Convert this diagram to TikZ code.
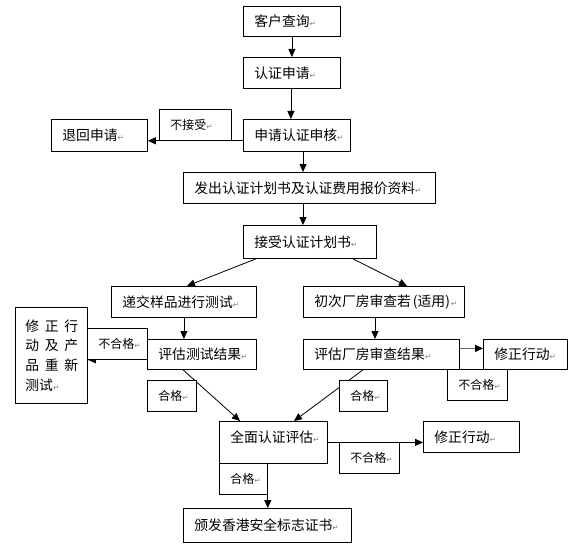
\documentclass[tikz,border=0pt]{standalone}
\usepackage{fontspec}
\setmainfont{Noto Sans CJK SC}
\newfontfamily\symfont{DejaVu Sans}
\usetikzlibrary{arrows.meta}
\newcommand\pmk{{\symfont\fontsize{7.5}{8}\selectfont\color{gray}↵}}
\newcommand\bigtxt{\fontsize{13.8}{19.7}\selectfont}
\newcommand\smalltxt{\fontsize{12}{14}\selectfont}
\newcommand\bx[2]{\makebox[#1pt][l]{\hspace{11pt}#2}}
\begin{document}
\begin{tikzpicture}[x=1pt,y=-1pt,
  box/.style={draw, fill=white, line width=0.8pt, inner sep=0pt, anchor=north west, font=\bigtxt},
  lab/.style={box, font=\smalltxt},
  arr/.style={line width=0.8pt, -{Triangle[length=8pt,width=7pt]}},
  garr/.style={draw=gray!80!black, line width=1.3pt, -{Triangle[length=8pt,width=7pt,color=black]}}]
\useasboundingbox (0,0) rectangle (583,559);
% main boxes
\node[box, minimum width=97, minimum height=30] (kehu) at (243,6) {\bx{97}{客户查询\pmk}};
\node[box, minimum width=97, minimum height=31] (renzheng) at (243,57) {\bx{97}{认证申请\pmk}};
\node[box, minimum width=107, minimum height=32] (shenhe) at (243,119) {\bx{107}{申请认证申核\pmk}};
\node[box, minimum width=96, minimum height=32] (tuihui) at (51,119) {\bx{96}{退回申请\pmk}};
\node[box, minimum width=252, minimum height=31] (fachu) at (183,172) {\bx{252}{发出认证计划书及认证费用报价资料\pmk}};
\node[box, minimum width=133, minimum height=33] (jieshou) at (243,225) {\bx{133}{接受认证计划书\pmk}};
\node[box, minimum width=145, minimum height=31] (dijiao) at (111,286) {\bx{145}{递交样品进行测试\pmk}};
\node[box, minimum width=161, minimum height=31] (chuci) at (303,286) {\bx{161}{初次厂房审查若\kern2pt(适用)\kern1pt\pmk}};
\node[box, minimum width=72, minimum height=96, inner xsep=10pt, text width=52, align=left] (xiuzheng1) at (15,307)
  {修\kern5.7pt正\kern5.7pt行\\动\kern5.7pt及\kern5.7pt产\\品\kern5.7pt重\kern5.7pt新\\测试\pmk};
\node[box, minimum width=109, minimum height=30] (pinggu1) at (147,339) {\bx{109}{评估测试结果\pmk}};
\node[box, minimum width=156, minimum height=30] (pinggu2) at (303,339) {\bx{156}{评估厂房审查结果\pmk}};
\node[box, minimum width=84, minimum height=30] (xiuzheng2) at (483,339) {\bx{84}{修正行动\pmk}};
\node[box, minimum width=108, minimum height=42, text depth=11pt] (quanmian) at (219,421) {\bx{108}{全面认证评估\pmk}};
\node[box, minimum width=96, minimum height=31] (xiuzheng3) at (423,421) {\bx{96}{修正行动\pmk}};
\node[box, minimum width=168, minimum height=34] (banfa) at (183,508) {\bx{168}{颁发香港安全标志证书\pmk}};
% helper coordinate
\coordinate (c303) at (303,0);
% connectors
\draw[arr] (kehu.south) -- (renzheng.north);
\draw[arr] ([xshift=-1]renzheng.south) -- ([xshift=-1]renzheng.south |- shenhe.north);
\draw[arr] (shenhe.south -| c303) -- (fachu.north -| c303);
\draw[arr] ([yshift=11]shenhe.south west) -- ([yshift=11]shenhe.south west -| tuihui.east);
\draw[arr] (fachu.south -| c303) -- (jieshou.north -| c303);
\draw[arr] ([xshift=13]jieshou.south west) -- ([xshift=76]dijiao.north west);
\draw[arr] ([xshift=-24]jieshou.south east) -- ([xshift=104]chuci.north west);
\draw[arr] (dijiao.south) -- (dijiao.south |- pinggu1.north);
\draw[arr] ([xshift=72]chuci.south west) -- ([xshift=72]chuci.south west |- pinggu2.north);
\draw[arr] ([yshift=10]pinggu1.south west) -- ([yshift=10]pinggu1.south west -| xiuzheng1.east);
\draw[garr] ([yshift=6]pinggu2.east) -- ([yshift=6]pinggu2.east -| xiuzheng2.west);
\draw[arr] ([xshift=36]pinggu1.south west) -- ([xshift=21]quanmian.north west);
\draw[arr] ([xshift=60]pinggu2.south west) -- ([xshift=75]quanmian.north west);
\draw[arr] (quanmian.east) -- (quanmian.east -| xiuzheng3.west);
\draw[arr] ([xshift=-60]quanmian.south east) -- ([xshift=-60]quanmian.south east |- banfa.north);
% label boxes
\node[lab, minimum width=72, minimum height=31] (bujieshou) at (159,109) {\bx{72}{不接受\pmk}};
\node[lab, minimum width=60, minimum height=31] (buhege1) at (87,328) {\bx{60}{不合格\pmk}};
\node[lab, minimum width=60, minimum height=31] (buhege2) at (447,369) {\bx{60}{不合格\pmk}};
\node[lab, minimum width=49, minimum height=31] (hege1) at (147,380) {\bx{49}{合格\pmk}};
\node[lab, minimum width=48, minimum height=31] (hege2) at (339,380) {\bx{48}{合格\pmk}};
\node[lab, minimum width=60, minimum height=31] (buhege3) at (339,442) {\bx{60}{不合格\pmk}};
\node[lab, minimum width=48, minimum height=31] (hege3) at (219,463) {\bx{48}{合格\pmk}};
\end{tikzpicture}
\end{document}
